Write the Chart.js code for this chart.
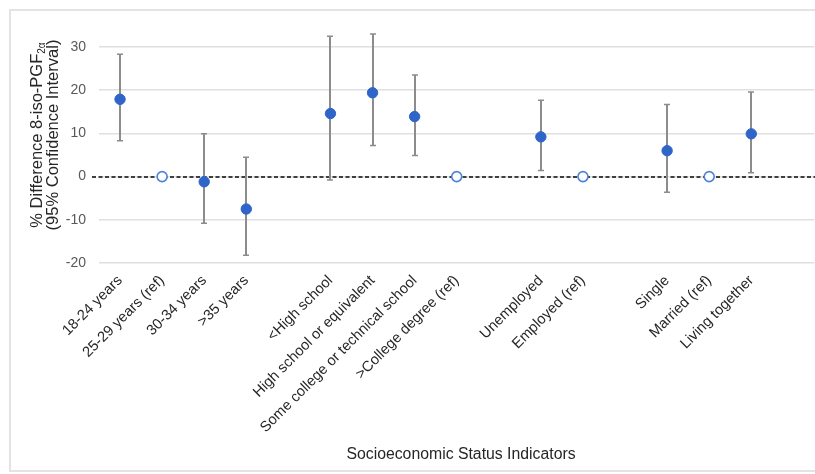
<!DOCTYPE html>
<html>
<head>
<meta charset="utf-8">
<script src="https://cdn.jsdelivr.net/npm/chart.js@4"></script>
<style>
  html, body { margin: 0; padding: 0; background: #fff; overflow: hidden; }
  #wrap { position: relative; width: 815px; height: 474px; overflow: hidden; }
  #frame { position: absolute; left: 9px; top: 9px; width: 840px; height: 463px; border: 2px solid #e3e3e3; border-right: none; box-sizing: border-box; }
  canvas { position: absolute; left: 0; top: 0; }
</style>
</head>
<body>
<div id="wrap">
  <div id="frame"></div>
  <canvas id="c" width="821" height="474"></canvas>
</div>
<script>
// ---- data ----
const categories = ['18-24 years', '25-29 years (ref)', '30-34 years', '>35 years', '',
  '<High school', 'High school or equivalent', 'Some college or technical school', '>College degree (ref)', '',
  'Unemployed', 'Employed (ref)', '',
  'Single', 'Married (ref)', 'Living together', ''];
const estimates = [17.9, null, -1.2, -7.5, null, 14.6, 19.4, 13.9, null, null, 9.2, null, null, 6.0, null, 9.9, null];
const lowerCI   = [8.3, null, -10.8, -18.2, null, -0.8, 7.2, 4.9, null, null, 1.4, null, null, -3.6, null, 0.9, null];
const upperCI   = [28.3, null, 9.9, 4.5, null, 32.5, 33.0, 23.5, null, null, 17.7, null, null, 16.7, null, 19.6, null];
const references = [null, 0, null, null, null, null, null, null, 0, null, null, 0, null, null, 0, null, null];
const yTicks = [-20, -10, 0, 10, 20, 30];

const FONT = '"Liberation Sans", Arial, sans-serif';

const overlay = {
  id: 'overlay',
  beforeDatasetsDraw(chart) {
    const ctx = chart.ctx, xs = chart.scales.x, ys = chart.scales.y, a = chart.chartArea;
    // dashed zero line
    const y0 = Math.round(ys.getPixelForValue(0));
    ctx.save();
    ctx.strokeStyle = '#3f3f3f';
    ctx.lineWidth = 2;
    ctx.setLineDash([4, 2.5]);
    ctx.beginPath();
    ctx.moveTo(a.left - 7, y0);
    ctx.lineTo(a.right + 2, y0);
    ctx.stroke();
    ctx.restore();
    // error bars
    ctx.save();
    ctx.strokeStyle = '#8c8c8c';
    for (let i = 0; i < categories.length; i++) {
      if (lowerCI[i] == null || upperCI[i] == null) continue;
      const x = Math.round(xs.getPixelForValue(i));
      const yl = ys.getPixelForValue(lowerCI[i]);
      const yu = ys.getPixelForValue(upperCI[i]);
      ctx.lineWidth = 2;
      ctx.beginPath();
      ctx.moveTo(x, yl); ctx.lineTo(x, yu); ctx.stroke();
      ctx.lineWidth = 1.5;
      ctx.beginPath();
      ctx.moveTo(x - 3, yl); ctx.lineTo(x + 3, yl);
      ctx.moveTo(x - 3, yu); ctx.lineTo(x + 3, yu);
      ctx.stroke();
    }
    ctx.restore();
  },
  afterDraw(chart) {
    const ctx = chart.ctx;
    ctx.save();
    ctx.fillStyle = '#262626';
    // x title
    ctx.font = '15.8px ' + FONT;
    ctx.textAlign = 'center';
    ctx.textBaseline = 'alphabetic';
    ctx.fillText('Socioeconomic Status Indicators', 461, 459);
    // y title (two lines, with subscript)
    const cy = 135;
    ctx.save();
    ctx.translate(42, cy);
    ctx.rotate(-Math.PI / 2);
    const main = '% Difference 8-iso-PGF';
    const sub = '2\u03B1';
    ctx.font = '16.5px ' + FONT;
    const wMain = ctx.measureText(main).width;
    ctx.font = '10px ' + FONT;
    const wSub = ctx.measureText(sub).width;
    const total = wMain + wSub;
    ctx.textAlign = 'left';
    ctx.font = '16.5px ' + FONT;
    ctx.fillText(main, -total / 2, 0);
    ctx.font = '10px ' + FONT;
    ctx.fillText(sub, -total / 2 + wMain, 3);
    ctx.font = '16.5px ' + FONT;
    ctx.textAlign = 'center';
    ctx.fillText('(95% Confidence Interval)', 0, 16);
    ctx.restore();
    ctx.restore();
  }
};

new Chart(document.getElementById('c'), {
  type: 'line',
  data: {
    labels: categories,
    datasets: [
      {
        label: 'Estimate',
        data: estimates,
        showLine: false,
        pointRadius: 5.2,
        pointBackgroundColor: '#2f64c9',
        pointBorderColor: '#2f64c9',
        pointBorderWidth: 1
      },
      {
        label: 'Reference',
        data: references,
        showLine: false,
        pointRadius: 5,
        pointBackgroundColor: '#ffffff',
        pointBorderColor: '#4f82d9',
        pointBorderWidth: 1.6
      }
    ]
  },
  options: {
    responsive: false,
    animation: false,
    devicePixelRatio: 1,
    layout: { padding: { top: 47, right: 1, left: 0, bottom: 0 } },
    plugins: { legend: { display: false }, tooltip: { enabled: false } },
    scales: {
      x: {
        type: 'category',
        offset: true,
        grid: { display: false, drawTicks: false },
        border: { display: false },
        afterFit(s) { s.height = 211; },
        ticks: {
          autoSkip: false,
          minRotation: 45,
          maxRotation: 45,
          padding: 9,
          color: '#262626',
          font: { family: FONT, size: 14.7 }
        }
      },
      y: {
        min: -20,
        max: 30,
        afterFit(s) { s.width = 99; },
        afterBuildTicks(s) { s.ticks = yTicks.map(v => ({ value: v })); },
        grid: { color: '#e0e0e0', lineWidth: 1.5, drawTicks: false },
        border: { display: false },
        ticks: {
          padding: 13,
          color: '#595959',
          font: { family: FONT, size: 14 }
        }
      }
    }
  },
  plugins: [overlay]
});
</script>
</body>
</html>
